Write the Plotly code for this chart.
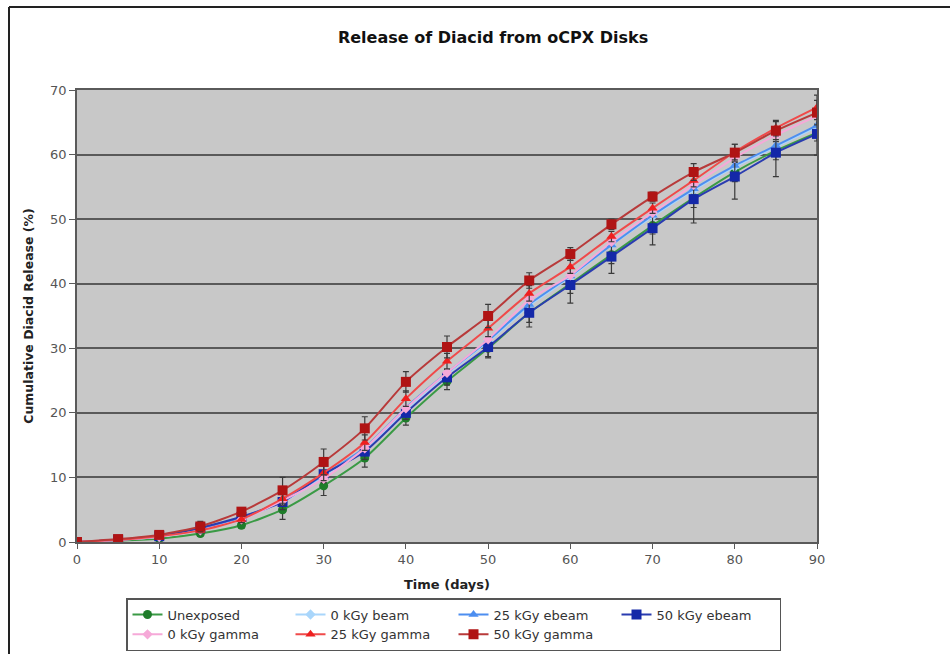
import plotly.graph_objects as go

days = [0, 5, 10, 15, 20, 25, 30, 35, 40, 45, 50, 55, 60, 65, 70, 75, 80, 85, 90]

unexposed = [0, 0.2, 0.5, 1.3, 2.6, 5.0, 8.7, 13.0, 19.2, 24.9, 30.0, 35.5, 40.0, 44.5, 49.0, 53.3, 57.3, 60.6, 63.4]
beam0 = [0, 0.3, 0.8, 2.0, 3.6, 6.2, 10.0, 14.3, 20.5, 26.0, 31.0, 36.6, 41.0, 46.0, 50.4, 54.5, 58.1, 61.2, 64.3]
ebeam25 = [0, 0.35, 0.9, 2.1, 3.8, 6.4, 10.4, 14.6, 20.8, 26.2, 31.2, 36.8, 41.2, 46.0, 50.6, 54.7, 58.3, 61.4, 64.5]
ebeam50 = [0, 0.35, 0.9, 2.2, 3.9, 6.2, 10.5, 14.0, 20.0, 25.5, 30.2, 35.5, 39.8, 44.2, 48.6, 53.1, 56.6, 60.3, 63.2]
gamma0 = [0, 0.3, 0.8, 1.8, 3.5, 6.4, 9.8, 14.5, 20.7, 26.2, 31.4, 37.5, 41.3, 46.5, 51.0, 55.3, 59.5, 63.0, 66.0]
gamma25 = [0, 0.35, 0.9, 1.8, 3.5, 6.7, 10.7, 15.4, 22.2, 28.0, 33.1, 38.5, 42.6, 47.3, 51.7, 56.0, 60.4, 64.1, 67.3]
gamma50 = [0, 0.45, 1.1, 2.4, 4.7, 8.0, 12.4, 17.6, 24.8, 30.2, 35.0, 40.5, 44.6, 49.2, 53.5, 57.3, 60.3, 63.7, 66.5]

err_unexposed = [0, 0.1, 0.2, 0.4, 0.5, 1.5, 1.5, 1.4, 1.1, 1.3, 1.5, 1.5, 1.5, 1.4, 1.3, 1.5, 1.5, 1.4, 1.3]
err_ebeam50 = [0, 0.1, 0.2, 0.4, 0.5, 1.2, 1.3, 1.2, 1.0, 1.2, 1.5, 2.2, 2.8, 2.6, 2.6, 3.7, 3.5, 3.7, 3.3]
err_gamma25 = [0, 0.1, 0.2, 0.4, 0.5, 1.0, 1.2, 1.2, 1.2, 1.2, 1.3, 1.2, 1.0, 0.8, 0.8, 1.0, 1.2, 1.2, 1.9]
err_gamma50 = [0, 0.1, 0.2, 0.8, 0.6, 2.0, 2.0, 1.8, 1.6, 1.7, 1.8, 1.2, 1.0, 0.8, 0.7, 1.3, 1.3, 1.4, 1.9]

names = ["Unexposed", "0 kGy beam", "25 kGy ebeam", "50 kGy ebeam",
         "0 kGy gamma", "25 kGy gamma", "50 kGy gamma"]
series = [unexposed, beam0, ebeam25, ebeam50, gamma0, gamma25, gamma50]
errors = [err_unexposed, None, None, err_ebeam50, None, err_gamma25, err_gamma50]
colors = ["#1e7d2a", "#a9d6fb", "#4d8ef0", "#1428a8", "#f6a9d8", "#ee2020", "#b01414"]
line_colors = ["#3a9a45", "#a9d6fb", "#4d8ef0", "#2a3cb0", "#f6a9d8", "#f04a4a", "#b83a3a"]
symbols = ["circle", "diamond", "triangle-up", "square", "diamond", "triangle-up", "square"]
sizes = [9, 8, 9, 10, 8, 9, 10]

fig = go.Figure()
for name, ys, err, c, lc, sym, sz in zip(names, series, errors, colors, line_colors, symbols, sizes):
    kw = {}
    if err is not None:
        kw["error_y"] = dict(type="data", array=err, visible=True,
                             color="#3a3a3a", thickness=1.2, width=3)
    fig.add_trace(go.Scatter(
        x=days, y=ys, name=name, mode="lines+markers",
        line=dict(color=lc, width=2, shape="spline", smoothing=0.6),
        marker=dict(color=c, symbol=sym, size=sz),
        **kw))

W, H = 950, 654
L, R, T, B = 77, 817, 90, 542
pw, ph = R - L, B - T

def px(x):
    return (x - L) / pw

def py(y):
    return (B - y) / ph

fig.update_layout(
    width=W, height=H,
    margin=dict(l=L, r=W - R, t=T, b=H - B, autoexpand=False),
    paper_bgcolor="white",
    plot_bgcolor="#c8c8c8",
    font=dict(family="DejaVu Sans", size=12, color="#333333"),
    title=dict(text="<b>Release of Diacid from oCPX Disks</b>",
               x=0.519, xanchor="center", y=1 - 37 / H, yanchor="middle",
               font=dict(size=16, color="#111111")),
    showlegend=True,
    legend=dict(orientation="h", x=px(126), y=py(651), xanchor="left", yanchor="bottom",
                bgcolor="white", bordercolor="#555555", borderwidth=1.5,
                font=dict(size=13, color="#333333"),
                entrywidth=118, entrywidthmode="pixels",
                traceorder="normal", tracegroupgap=0, itemwidth=30),
    shapes=[
        dict(type="line", xref="paper", yref="paper", x0=px(9), x1=px(950),
             y0=py(7), y1=py(7), line=dict(color="#222222", width=2)),
        dict(type="line", xref="paper", yref="paper", x0=px(9), x1=px(9),
             y0=py(7), y1=py(660), line=dict(color="#222222", width=2)),
    ],
)

fig.update_xaxes(
    range=[0, 90], dtick=10, tick0=0,
    showgrid=False, zeroline=False,
    showline=True, linecolor="#5a5a5a", linewidth=1.5, mirror=True,
    ticks="outside", ticklen=5, tickcolor="#5a5a5a",
    tickfont=dict(size=13, color="#555555"),
    title=dict(text="<b>Time (days)</b>", font=dict(size=13, color="#222222"), standoff=14),
)
fig.update_yaxes(
    range=[0, 70], dtick=10, tick0=0,
    showgrid=True, gridcolor="#5a5a5a", gridwidth=2,
    zeroline=False,
    showline=True, linecolor="#5a5a5a", linewidth=1.5, mirror=True,
    ticks="outside", ticklen=6, tickcolor="#5a5a5a",
    tickfont=dict(size=13, color="#555555"),
    title=dict(text="<b>Cumulative Diacid Release (%)</b>", font=dict(size=12.5, color="#222222"), standoff=14),
)

fig.write_html("out.html")
